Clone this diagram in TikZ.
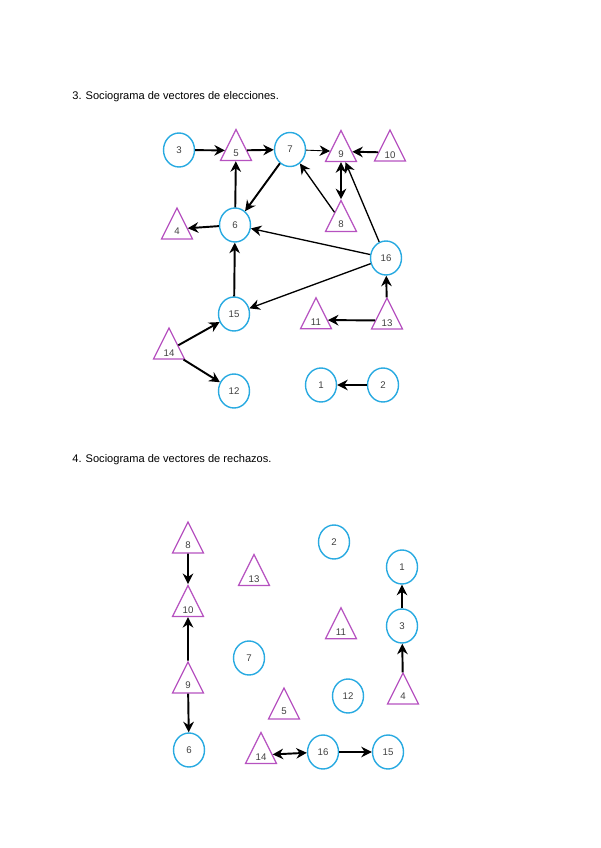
\documentclass[tikz,border=0pt]{standalone}
\usepackage{fontspec}
\setmainfont{Liberation Sans}
\usetikzlibrary{shapes.geometric,arrows.meta}
\definecolor{azul}{RGB}{41,170,225}
\definecolor{lila}{RGB}{182,82,192}
\tikzset{
  circulo/.style={ellipse,draw=azul,line width=0.8pt,minimum width=0.62cm,minimum height=0.68cm,inner sep=0pt,
    font=\fontsize{5.5}{6}\selectfont,text=black!75},
  triangulo/.style={isosceles triangle,isosceles triangle apex angle=53,isosceles triangle stretches,
    shape border rotate=90,draw=lila,line width=0.7pt,minimum width=0.62cm,minimum height=0.62cm,inner sep=0pt,
    text height=6.5pt,text depth=0pt,yshift=-0.06cm,font=\fontsize{5.5}{6}\selectfont,text=black!75},
  flecha/.style={-{Stealth[length=6pt,width=6pt]},line width=1.1pt},
  flechamedia/.style={-{Stealth[length=6pt,width=6pt]},line width=0.75pt},
  flechafina/.style={-{Stealth[length=6pt,width=6pt]},line width=0.5pt},
  doble/.style={{Stealth[length=6pt,width=6pt]}-{Stealth[length=6pt,width=6pt]},line width=1.1pt},
  titulo/.style={anchor=base west,inner sep=0pt,font=\fontsize{6.3}{7}\selectfont}
}
\begin{document}
\begin{tikzpicture}[x=0.02cm,y=-0.02cm]
  \useasboundingbox (0,0) rectangle (600,848);
  % 3. elecciones
  \node[titulo] (t3) at (72,100) {3. Sociograma de vectores de elecciones.};
  \foreach \n/\x/\y in {3/179/150,7/290/149.5,6/235/225,16/386/258,15/234/314,12/234/391,1/321/385,2/383/385}
    \node[circulo] (e\n) at (\x,\y) {\n};
  \foreach \n/\x/\y in {5/236/147.5,9/341/148.5,10/390/149.5,4/177/226,8/341/218.5,11/316/317,13/387/317.5,14/169/347.5}
    \node[triangulo] (e\n) at (\x,\y) {\n};
  \foreach \a/\b in {3/5,5/7,10/9,7/6,6/5,6/4,15/6,13/16,13/11,14/15,14/12,2/1}
    \draw[flecha] (e\a) -- (e\b);
  \foreach \a/\b in {8/7,16/9,16/6,16/15}
    \draw[flechamedia] (e\a) -- (e\b);
  \draw[flechafina] (e7) -- (e9);
  \draw[doble] (e9) -- (e8);
  % 4. rechazos
  \node[titulo] (t4) at (72,462) {4. Sociograma de vectores de rechazos.};
  \foreach \n/\x/\y in {6/189/750,7/249/658,16/323/752,15/388/752,12/348/696,2/334/542,1/402/567,3/402/626}
    \node[circulo] (r\n) at (\x,\y) {\n};
  \foreach \n/\x/\y in {8/188/540,10/188/605,9/188/680,13/254/574,5/284/706,14/261/752,11/341/627,4/403/691}
    \node[triangulo] (r\n) at (\x,\y) {\n};
  \foreach \a/\b in {8/10,9/10,9/6,3/1,4/3}
    \draw[flecha] (r\a) -- (r\b);
  \draw[doble] (r14) -- (r16);
  \draw[flechamedia] (r16) -- (r15);
\end{tikzpicture}
\end{document}
